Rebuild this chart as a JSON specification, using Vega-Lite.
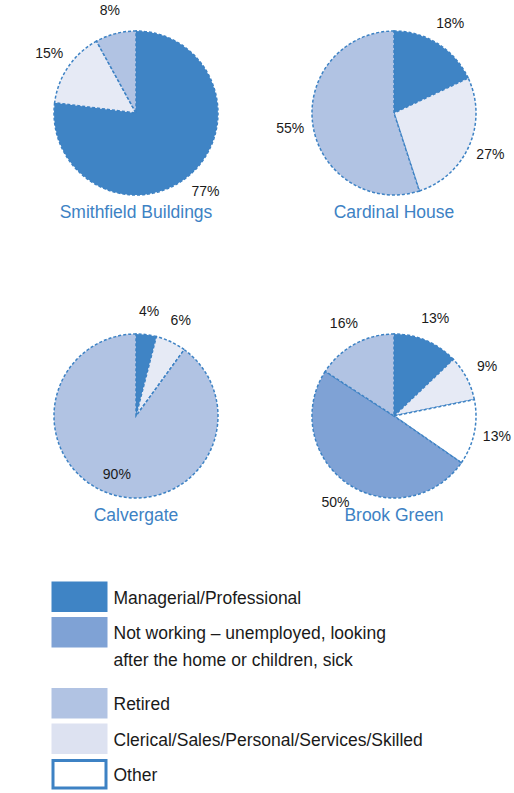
{
  "$schema": "https://vega.github.io/schema/vega-lite/v6.json",
  "autosize": "pad",
  "padding": {"left": 16, "top": 0, "right": 0, "bottom": 0},
  "background": "white",
  "spacing": 50,
  "config": {
    "view": {"stroke": null},
    "font": "Liberation Sans",
    "title": {"orient": "bottom", "offset": -22, "baseline": "top", "frame": "group", "anchor": "middle", "color": "#3d82c4", "fontSize": 17.5, "fontWeight": "normal", "font": "Liberation Sans"},
    "arc": {"outerRadius": 82, "stroke": "#3d82c4", "strokeDash": [3, 2], "strokeWidth": 1.5},
    "text": {"fontSize": 14, "color": "#1a1a1a"}
  },
  "datasets": {
    "pies": [
      {"estate": "Smithfield Buildings", "category": "Managerial/Professional", "value": 77},
      {"estate": "Smithfield Buildings", "category": "Clerical/Sales/Personal/Services/Skilled", "value": 15},
      {"estate": "Smithfield Buildings", "category": "Retired", "value": 8},
      {"estate": "Cardinal House", "category": "Managerial/Professional", "value": 18},
      {"estate": "Cardinal House", "category": "Clerical/Sales/Personal/Services/Skilled", "value": 27},
      {"estate": "Cardinal House", "category": "Retired", "value": 55},
      {"estate": "Calvergate", "category": "Managerial/Professional", "value": 4},
      {"estate": "Calvergate", "category": "Clerical/Sales/Personal/Services/Skilled", "value": 6},
      {"estate": "Calvergate", "category": "Retired", "value": 90},
      {"estate": "Brook Green", "category": "Managerial/Professional", "value": 13},
      {"estate": "Brook Green", "category": "Clerical/Sales/Personal/Services/Skilled", "value": 9},
      {"estate": "Brook Green", "category": "Other", "value": 13},
      {"estate": "Brook Green", "category": "Not working", "value": 50},
      {"estate": "Brook Green", "category": "Retired", "value": 16}
    ],
    "legend": [
      {"category": "Managerial/Professional", "text": "Managerial/Professional"},
      {"category": "Not working", "text": "Not working – unemployed, looking\nafter the home or children, sick"},
      {"category": "Retired", "text": "Retired"},
      {"category": "Clerical/Sales/Personal/Services/Skilled", "text": "Clerical/Sales/Personal/Services/Skilled"},
      {"category": "Other", "text": "Other"}
    ]
  },
  "resolve": {"scale": {"theta": "independent"}},
  "vconcat": [
    {
      "spacing": 77,
      "resolve": {"scale": {"theta": "independent"}},
      "vconcat": [
        {
          "spacing": 18,
          "resolve": {"scale": {"theta": "independent"}},
          "hconcat": [
            {
              "title": "Smithfield Buildings",
              "data": {"name": "pies"},
              "transform": [
                {"filter": "datum.estate == 'Smithfield Buildings'"},
                {"calculate": "indexof(['Managerial/Professional','Clerical/Sales/Personal/Services/Skilled','Other','Not working','Retired'], datum.category)", "as": "ord"},
                {"calculate": "datum.value + '%'", "as": "label"}
              ],
              "width": 240, "height": 226,
              "layer": [
                {"mark": "arc", "encoding": {
                  "theta": {"field": "value", "type": "quantitative", "stack": true},
                  "order": {"field": "ord", "type": "quantitative"},
                  "color": {"field": "category", "type": "nominal", "legend": null,
                    "scale": {"domain": ["Managerial/Professional", "Not working", "Retired", "Clerical/Sales/Personal/Services/Skilled", "Other"],
                      "range": ["#3f84c5", "#7fa2d5", "#b1c3e3", "#e6eaf5", "#ffffff"]}}}},
                {"mark": {"type": "text", "radius": 105}, "encoding": {
                  "theta": {"field": "value", "type": "quantitative", "stack": true},
                  "order": {"field": "ord", "type": "quantitative"},
                  "detail": {"field": "category", "type": "nominal"},
                  "text": {"field": "label", "type": "nominal"}}}
              ]
            },
            {
              "title": "Cardinal House",
              "data": {"name": "pies"},
              "transform": [
                {"filter": "datum.estate == 'Cardinal House'"},
                {"calculate": "indexof(['Managerial/Professional','Clerical/Sales/Personal/Services/Skilled','Other','Not working','Retired'], datum.category)", "as": "ord"},
                {"calculate": "datum.value + '%'", "as": "label"}
              ],
              "width": 240, "height": 226,
              "layer": [
                {"mark": "arc", "encoding": {
                  "theta": {"field": "value", "type": "quantitative", "stack": true},
                  "order": {"field": "ord", "type": "quantitative"},
                  "color": {"field": "category", "type": "nominal", "legend": null}}},
                {"mark": {"type": "text", "radius": 105}, "encoding": {
                  "theta": {"field": "value", "type": "quantitative", "stack": true},
                  "order": {"field": "ord", "type": "quantitative"},
                  "detail": {"field": "category", "type": "nominal"},
                  "text": {"field": "label", "type": "nominal"}}}
              ]
            }
          ]
        },
        {
          "spacing": 18,
          "resolve": {"scale": {"theta": "independent"}},
          "hconcat": [
            {
              "title": "Calvergate",
              "data": {"name": "pies"},
              "transform": [
                {"filter": "datum.estate == 'Calvergate'"},
                {"calculate": "indexof(['Managerial/Professional','Clerical/Sales/Personal/Services/Skilled','Other','Not working','Retired'], datum.category)", "as": "ord"},
                {"calculate": "datum.value < 85 ? datum.value + '%' : ''", "as": "labelOut"},
                {"calculate": "datum.value >= 85 ? datum.value + '%' : ''", "as": "labelIn"}
              ],
              "width": 240, "height": 226,
              "layer": [
                {"mark": "arc", "encoding": {
                  "theta": {"field": "value", "type": "quantitative", "stack": true},
                  "order": {"field": "ord", "type": "quantitative"},
                  "color": {"field": "category", "type": "nominal", "legend": null}}},
                {"mark": {"type": "text", "radius": 105}, "encoding": {
                  "theta": {"field": "value", "type": "quantitative", "stack": true},
                  "order": {"field": "ord", "type": "quantitative"},
                  "detail": {"field": "category", "type": "nominal"},
                  "text": {"field": "labelOut", "type": "nominal"}}},
                {"mark": {"type": "text", "radius": 62}, "encoding": {
                  "theta": {"field": "value", "type": "quantitative", "stack": true},
                  "order": {"field": "ord", "type": "quantitative"},
                  "detail": {"field": "category", "type": "nominal"},
                  "text": {"field": "labelIn", "type": "nominal"}}}
              ]
            },
            {
              "title": "Brook Green",
              "data": {"name": "pies"},
              "transform": [
                {"filter": "datum.estate == 'Brook Green'"},
                {"calculate": "indexof(['Managerial/Professional','Clerical/Sales/Personal/Services/Skilled','Other','Not working','Retired'], datum.category)", "as": "ord"},
                {"calculate": "datum.value + '%'", "as": "label"}
              ],
              "width": 240, "height": 226,
              "layer": [
                {"mark": "arc", "encoding": {
                  "theta": {"field": "value", "type": "quantitative", "stack": true},
                  "order": {"field": "ord", "type": "quantitative"},
                  "color": {"field": "category", "type": "nominal", "legend": null}}},
                {"mark": {"type": "text", "radius": 105}, "encoding": {
                  "theta": {"field": "value", "type": "quantitative", "stack": true},
                  "order": {"field": "ord", "type": "quantitative"},
                  "detail": {"field": "category", "type": "nominal"},
                  "text": {"field": "label", "type": "nominal"}}}
              ]
            }
          ]
        }
      ]
    },
    {
      "spacing": 5,
      "hconcat": [
        {
          "width": 30,
          "height": 213,
          "data": {"values": []},
          "mark": "point",
          "encoding": {}
        },
        {
          "data": {"name": "legend"},
          "width": 53,
          "height": 213,
          "mark": {"type": "rect", "strokeWidth": 3},
          "encoding": {
            "y": {
              "field": "category", "type": "nominal", "axis": null,
              "scale": {"domain": ["Managerial/Professional", "Not working", " ", "Retired", "Clerical/Sales/Personal/Services/Skilled", "Other"], "paddingInner": 0.22, "paddingOuter": 0.11}
            },
            "fill": {
              "field": "category", "type": "nominal", "legend": null,
              "scale": {
                "domain": ["Managerial/Professional", "Not working", "Retired", "Clerical/Sales/Personal/Services/Skilled", "Other"],
                "range": ["#3f84c5", "#7fa2d5", "#b1c3e3", "#dde2f1", "#ffffff"]
              }
            },
            "stroke": {
              "field": "category", "type": "nominal", "legend": null,
              "scale": {
                "domain": ["Managerial/Professional", "Not working", "Retired", "Clerical/Sales/Personal/Services/Skilled", "Other"],
                "range": ["#3f84c5", "#7fa2d5", "#b1c3e3", "#dde2f1", "#3d82c4"]
              }
            }
          }
        },
        {
          "data": {"name": "legend"},
          "width": 1,
          "height": 213,
          "mark": {"type": "text", "align": "left", "baseline": "top", "dy": -7, "lineBreak": "\n", "lineHeight": 27, "fontSize": 17.5, "color": "#1a1a1a"},
          "encoding": {
            "y": {
              "field": "category", "type": "nominal", "axis": null,
              "scale": {"domain": ["Managerial/Professional", "Not working", " ", "Retired", "Clerical/Sales/Personal/Services/Skilled", "Other"], "paddingInner": 0.22, "paddingOuter": 0.11}
            },
            "text": {"field": "text", "type": "nominal"}
          }
        }
      ]
    }
  ]
}
